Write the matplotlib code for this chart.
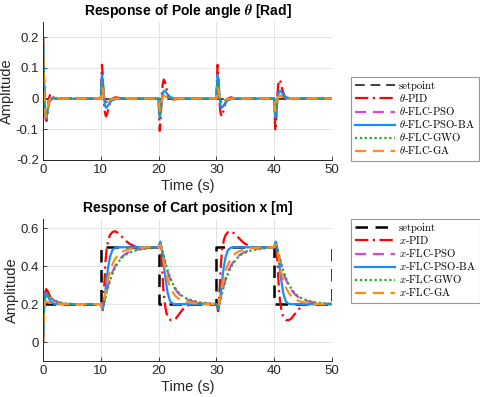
import matplotlib
matplotlib.use("Agg")
import matplotlib.pyplot as plt
import numpy as np

plt.rcParams['mathtext.fontset'] = 'cm'

# ---------------- data ----------------
# setpoints
sp_theta_t = [0, 50]
sp_theta_v = [0, 0]
sp_x_t = [0, 10, 10, 20, 20, 30, 30, 40, 40, 50, 50]
sp_x_v = [0.2, 0.2, 0.5, 0.5, 0.2, 0.2, 0.5, 0.5, 0.2, 0.2, 0.5]

# ---- Pole angle: start (t=0..10) ----
th_init_t = [0, 0.05, 0.15, 0.3, 0.45, 0.6, 0.8, 1.0, 1.3, 1.6, 2.0, 2.5, 3.0, 4.0, 6.0, 8.0, 10.0]
th_init_pid = [0.2, 0.17, 0.08, -0.02, -0.065, -0.073, -0.04, 0.0, 0.016, 0.01, 0.0, -0.003, 0, 0, 0, 0, 0]
th_init_pso = [0.2, 0.17, 0.08, -0.02, -0.055, -0.06, -0.04, -0.015, -0.004, -0.001, 0, 0, 0, 0, 0, 0, 0]
th_init_ba = [0.2, 0.17, 0.08, -0.02, -0.06, -0.065, -0.04, -0.01, 0.003, 0.002, 0, 0, 0, 0, 0, 0, 0]
th_init_gwo = [0.2, 0.17, 0.08, -0.02, -0.055, -0.06, -0.042, -0.017, -0.005, -0.001, 0, 0, 0, 0, 0, 0, 0]
th_init_ga = [0.2, 0.17, 0.07, -0.03, -0.06, -0.055, -0.03, -0.01, 0.0, 0.0, 0, 0, 0, 0, 0, 0, 0]

# ---- Pole angle: events (relative time) ----
th_ev_t = [0, 0.1, 0.2, 0.35, 0.5, 0.7, 0.9, 1.1, 1.4, 1.7, 2.0, 2.5, 3.0, 3.5, 4.0, 5.0, 6.0, 8.0, 10.0]
# event at t=10 (cart moves up)
th_up_pid = [0, 0.06, 0.11, 0.07, 0.0, -0.045, -0.058, -0.05, -0.025, -0.008, 0.0, 0.004, 0.003, 0.001, 0, 0, 0, 0, 0]
th_up_pso = [0, 0.03, 0.055, 0.045, 0.015, -0.008, -0.012, -0.01, -0.007, -0.004, -0.002, -0.001, 0, 0, 0, 0, 0, 0, 0]
th_up_ba = [0, 0.04, 0.077, 0.06, 0.02, -0.02, -0.03, -0.027, -0.018, -0.01, -0.005, -0.002, 0, 0, 0, 0, 0, 0, 0]
th_up_gwo = [0, 0.025, 0.05, 0.04, 0.012, -0.007, -0.01, -0.009, -0.006, -0.004, -0.002, -0.001, 0, 0, 0, 0, 0, 0, 0]
th_up_ga = [0, 0.02, 0.035, 0.03, 0.01, -0.005, -0.01, -0.008, -0.005, -0.003, -0.001, 0, 0, 0, 0, 0, 0, 0, 0]
# event at t=20 (cart moves down)
th_dn_pid = [0, -0.06, -0.105, -0.07, 0.0, 0.045, 0.062, 0.055, 0.03, 0.012, 0.003, -0.003, -0.002, 0, 0, 0, 0, 0, 0]
th_dn_pso = [0, -0.03, -0.055, -0.045, -0.015, 0.008, 0.012, 0.01, 0.007, 0.004, 0.002, 0.001, 0, 0, 0, 0, 0, 0, 0]
th_dn_ba = [0, -0.035, -0.062, -0.045, -0.01, 0.015, 0.025, 0.025, 0.018, 0.01, 0.005, 0.002, 0, 0, 0, 0, 0, 0, 0]
th_dn_gwo = [0, -0.025, -0.05, -0.04, -0.012, 0.007, 0.01, 0.009, 0.006, 0.004, 0.002, 0.001, 0, 0, 0, 0, 0, 0, 0]
th_dn_ga = [0, -0.02, -0.04, -0.03, -0.01, 0.005, 0.01, 0.008, 0.005, 0.003, 0.001, 0, 0, 0, 0, 0, 0, 0, 0]

# ---- Cart position: start (t=0..10) ----
x_init_t = [0, 0.1, 0.2, 0.35, 0.55, 0.8, 1.0, 1.3, 1.6, 2.0, 2.5, 3.0, 3.5, 4.0, 5.0, 6.0, 8.0, 10.0]
x_init_pid = [0, 0.1, 0.2, 0.26, 0.279, 0.27, 0.255, 0.238, 0.226, 0.216, 0.208, 0.204, 0.202, 0.2, 0.2, 0.2, 0.2, 0.2]
x_init_pso = [0, 0.09, 0.18, 0.23, 0.25, 0.248, 0.242, 0.234, 0.226, 0.218, 0.212, 0.207, 0.204, 0.202, 0.2, 0.2, 0.2, 0.2]
x_init_ba = [0, 0.1, 0.2, 0.25, 0.26, 0.245, 0.232, 0.215, 0.206, 0.201, 0.2, 0.2, 0.2, 0.2, 0.2, 0.2, 0.2, 0.2]
x_init_gwo = [0, 0.09, 0.18, 0.23, 0.25, 0.248, 0.243, 0.236, 0.228, 0.22, 0.213, 0.208, 0.205, 0.203, 0.201, 0.2, 0.2, 0.2]
x_init_ga = [0, 0.08, 0.17, 0.21, 0.215, 0.212, 0.208, 0.205, 0.203, 0.201, 0.2, 0.2, 0.2, 0.2, 0.2, 0.2, 0.2, 0.2]

# ---- Cart position: events (relative time) ----
x_ev_t = [0, 0.15, 0.3, 0.45, 0.6, 0.8, 1.0, 1.3, 1.6, 2.0, 2.5, 3.0, 3.5, 4.0, 4.5, 5.0, 6.0, 7.0, 8.0, 9.0, 10.0]
x_up_pid = [0.2, 0.19, 0.163, 0.2, 0.3, 0.42, 0.49, 0.54, 0.565, 0.58, 0.585, 0.575, 0.56, 0.545, 0.53, 0.518, 0.503, 0.497, 0.498, 0.5, 0.5]
x_up_pso = [0.2, 0.19, 0.186, 0.197, 0.213, 0.24, 0.266, 0.302, 0.333, 0.368, 0.402, 0.426, 0.445, 0.459, 0.469, 0.476, 0.486, 0.492, 0.495, 0.498, 0.499]
x_up_ba = [0.2, 0.185, 0.175, 0.19, 0.22, 0.27, 0.33, 0.4, 0.45, 0.485, 0.498, 0.5, 0.5, 0.5, 0.5, 0.5, 0.5, 0.5, 0.5, 0.5, 0.5]
x_up_gwo = [0.2, 0.19, 0.185, 0.195, 0.21, 0.235, 0.26, 0.295, 0.325, 0.36, 0.395, 0.42, 0.44, 0.455, 0.465, 0.472, 0.483, 0.49, 0.494, 0.497, 0.498]
x_up_ga = [0.2, 0.19, 0.185, 0.2, 0.225, 0.26, 0.295, 0.34, 0.375, 0.41, 0.44, 0.46, 0.472, 0.48, 0.486, 0.49, 0.495, 0.498, 0.5, 0.5, 0.5]
x_dn_pid = [0.5, 0.515, 0.52, 0.48, 0.4, 0.29, 0.22, 0.16, 0.13, 0.117, 0.115, 0.125, 0.145, 0.165, 0.182, 0.193, 0.2, 0.203, 0.202, 0.2, 0.2]
x_dn_pso = [0.5, 0.51, 0.514, 0.503, 0.487, 0.46, 0.434, 0.398, 0.367, 0.332, 0.298, 0.274, 0.255, 0.241, 0.231, 0.224, 0.214, 0.208, 0.205, 0.202, 0.201]
x_dn_ba = [0.5, 0.52, 0.53, 0.51, 0.48, 0.43, 0.38, 0.31, 0.255, 0.215, 0.202, 0.2, 0.2, 0.2, 0.2, 0.2, 0.2, 0.2, 0.2, 0.2, 0.2]
x_dn_gwo = [0.5, 0.51, 0.515, 0.505, 0.49, 0.465, 0.44, 0.405, 0.375, 0.34, 0.305, 0.28, 0.26, 0.245, 0.235, 0.228, 0.217, 0.21, 0.206, 0.203, 0.202]
x_dn_ga = [0.5, 0.51, 0.515, 0.5, 0.475, 0.44, 0.405, 0.36, 0.325, 0.29, 0.26, 0.24, 0.228, 0.22, 0.214, 0.21, 0.205, 0.202, 0.2, 0.2, 0.2]

event_times = [10, 20, 30, 40]          # up, down, up, down
labels_theta = ['setpoint', r'$\theta$-PID', r'$\theta$-FLC-PSO', r'$\theta$-FLC-PSO-BA',
                r'$\theta$-FLC-GWO', r'$\theta$-FLC-GA']
labels_x = ['setpoint', r'$x$-PID', r'$x$-FLC-PSO', r'$x$-FLC-PSO-BA',
            r'$x$-FLC-GWO', r'$x$-FLC-GA']


def build(init_t, init_v, ev_t, up_v, dn_v):
    t = list(init_t[:-1])
    v = list(init_v[:-1])
    for k, t0 in enumerate(event_times):
        vals = up_v if k % 2 == 0 else dn_v
        last = k == len(event_times) - 1
        rng = ev_t if last else ev_t[:-1]
        t += [t0 + r for r in rng]
        v += list(vals if last else vals[:-1])
    return np.array(t), np.array(v)


theta_series = [
    build(th_init_t, th_init_pid, th_ev_t, th_up_pid, th_dn_pid),
    build(th_init_t, th_init_pso, th_ev_t, th_up_pso, th_dn_pso),
    build(th_init_t, th_init_ba, th_ev_t, th_up_ba, th_dn_ba),
    build(th_init_t, th_init_gwo, th_ev_t, th_up_gwo, th_dn_gwo),
    build(th_init_t, th_init_ga, th_ev_t, th_up_ga, th_dn_ga),
]
x_series = [
    build(x_init_t, x_init_pid, x_ev_t, x_up_pid, x_dn_pid),
    build(x_init_t, x_init_pso, x_ev_t, x_up_pso, x_dn_pso),
    build(x_init_t, x_init_ba, x_ev_t, x_up_ba, x_dn_ba),
    build(x_init_t, x_init_gwo, x_ev_t, x_up_gwo, x_dn_gwo),
    build(x_init_t, x_init_ga, x_ev_t, x_up_ga, x_dn_ga),
]

colors = ['#ff0000', '#dd44dd', '#1a8cff', '#22aa22', '#ff8c1a']
styles = [(0, (6, 2, 1, 2)), (0, (5, 3)), '-', (0, (1, 1.2)), (0, (5, 3))]

fig = plt.figure(figsize=(4.8, 3.97), dpi=100)
ax1 = fig.add_axes([0.0896, 0.597, 0.602, 0.348])
ax2 = fig.add_axes([0.0896, 0.0907, 0.602, 0.358])


def style_ax(ax, ylim, yticks, title):
    ax.set_xlim(0, 50)
    ax.set_ylim(*ylim)
    ax.set_xticks([0, 10, 20, 30, 40, 50])
    ax.set_yticks(yticks)
    ax.grid(True, color='#e3e3e3', linewidth=0.7)
    ax.set_axisbelow(True)
    for s in ['top', 'right']:
        ax.spines[s].set_visible(False)
    for s in ['left', 'bottom']:
        ax.spines[s].set_color('#262626')
        ax.spines[s].set_linewidth(0.7)
    ax.tick_params(direction='in', length=3, width=0.6, colors='#262626',
                   labelsize=9.5, pad=3)
    for lab in ax.get_xticklabels() + ax.get_yticklabels():
        lab.set_family('Liberation Sans')
    ax.set_xlabel('Time (s)', family='Liberation Sans', fontsize=10.5, color='#262626', labelpad=2)
    ax.set_ylabel('Amplitude', family='Liberation Sans', fontsize=10.5, color='#262626', labelpad=1)
    ax.set_title(title, family='Liberation Sans', fontsize=10, fontweight='bold', pad=5)


# ---- top ----
ax1.plot(sp_theta_t, sp_theta_v, color='#404040', lw=1.4, ls=(0, (5, 3)), label=labels_theta[0])
for (t, v), c, ls, lab in zip(theta_series, colors, styles, labels_theta[1:]):
    ax1.plot(t, v, color=c, lw=1.6, ls=ls, label=lab)
style_ax(ax1, (-0.2, 0.25), [-0.2, -0.1, 0, 0.1, 0.2],
         r'Response of Pole angle $\boldsymbol{\theta}$ [Rad]')
ax1.set_yticklabels(['-0.2', '-0.1', '0', '0.1', '0.2'])

# ---- bottom ----
ax2.plot(sp_x_t, sp_x_v, color='black', lw=1.8, ls=(0, (5, 3)), label=labels_x[0])
for (t, v), c, ls, lab in zip(x_series, colors, styles, labels_x[1:]):
    ax2.plot(t, v, color=c, lw=1.6, ls=ls, label=lab)
style_ax(ax2, (-0.1, 0.65), [0, 0.2, 0.4, 0.6], 'Response of Cart position x [m]')
ax2.set_yticklabels(['0', '0.2', '0.4', '0.6'])

legprops = dict(family='cmr10', size=7.7)
for ax, y0 in [(ax1, 0.5945), (ax2, 0.2368)]:
    leg = ax.legend(loc='lower left', bbox_to_anchor=(0.731, y0), bbox_transform=fig.transFigure,
                    prop=legprops, handlelength=3.7, handletextpad=0.35, labelspacing=0.1,
                    borderpad=0.42, borderaxespad=0, fancybox=False, frameon=True)
    leg.get_frame().set_edgecolor('#808080')
    leg.get_frame().set_linewidth(0.8)

fig.savefig('out.png', dpi=100)
